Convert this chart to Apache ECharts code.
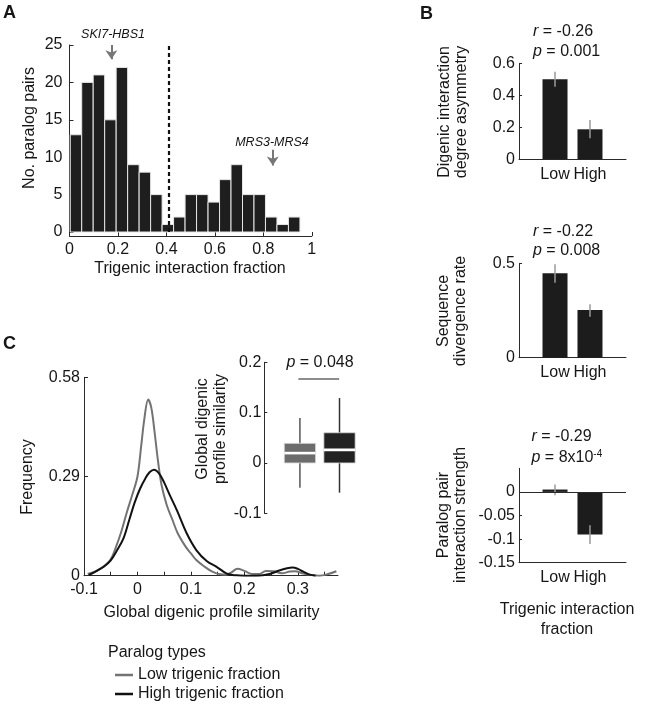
<!DOCTYPE html>
<html><head><meta charset="utf-8">
<script src="https://cdn.jsdelivr.net/npm/echarts@6/dist/echarts.min.js"></script>
<style>html,body{margin:0;padding:0;background:#fff}#c{width:645px;height:705px}</style>
</head><body><div id="c"></div>
<script>
const FONT = "'Liberation Sans', Arial, Helvetica, sans-serif";
const INK = '#161616';
const AXIS = '#2a2a2a';

// ---------- Panel A: histogram ----------
const histCounts = [13, 20, 21, 15, 22, 9, 8, 5, 1, 2, 5, 5, 4, 7, 9, 5, 5, 2, 1, 2];
const histBinStart = 0.003;
const histBinWidth = 0.0474;
const histXTicks = [0, 0.2, 0.4, 0.6, 0.8, 1];
const histYTicks = [0, 5, 10, 15, 20, 25];
const thresholdFraction = 0.41;
const arrowSKI7 = [0.173, 25, 23.1];   // x, start y, end y
const arrowMRS = [0.839, 11.0, 8.9];

// ---------- Panel B: bar charts ----------
const groups = ['Low', 'High'];
const asymMean = [0.50, 0.1875];
const asymLo = [0.454, 0.131];
const asymHi = [0.547, 0.245];
const asymYTicks = [0, 0.2, 0.4, 0.6];
const divMean = [0.447, 0.253];
const divLo = [0.397, 0.217];
const divHi = [0.495, 0.283];
const divYTicks = [0, 0.5];
const strMean = [0.005, -0.090];
const strLo = [-0.007, -0.1106];
const strHi = [0.0156, -0.0704];
const strYTicks = [0, -0.05, -0.1, -0.15];

// ---------- Panel C: density curves + inset boxplot ----------
const densLow = [[-0.093,0.005],[-0.08,0.012],[-0.065,0.025],[-0.05,0.048],[-0.04,0.085],[-0.03,0.13],
  [-0.02,0.185],[-0.01,0.235],[0,0.29],[0.007,0.38],[0.013,0.46],[0.02,0.515],[0.026,0.49],[0.032,0.42],
  [0.038,0.34],[0.045,0.265],[0.055,0.205],[0.065,0.165],[0.075,0.125],[0.09,0.085],[0.1,0.065],
  [0.11,0.046],[0.125,0.027],[0.14,0.012],[0.155,0.004],[0.165,0.003],[0.175,0.009],[0.187,0.02],
  [0.2,0.014],[0.215,0.005],[0.228,0.005],[0.24,0.014],[0.255,0.013],[0.27,0.007],[0.285,0.012],
  [0.295,0.013],[0.31,0.006],[0.325,0.002],[0.34,0.0],[0.355,0.004],[0.372,0.013]];
const densHigh = [[-0.091,0.002],[-0.075,0.015],[-0.063,0.026],[-0.05,0.045],[-0.038,0.075],[-0.026,0.11],
  [-0.015,0.165],[-0.005,0.215],[0.005,0.255],[0.015,0.285],[0.023,0.303],[0.031,0.31],[0.04,0.3],
  [0.05,0.272],[0.06,0.237],[0.074,0.19],[0.092,0.124],[0.11,0.075],[0.13,0.042],[0.148,0.026],
  [0.167,0.006],[0.185,0.001],[0.2,0.0],[0.225,0.0],[0.247,0.005],[0.265,0.015],[0.28,0.022],
  [0.29,0.024],[0.3,0.02],[0.31,0.012],[0.322,0.003],[0.333,0.0]];
const densXLabels = [-0.1, 0, 0.1, 0.2, 0.3];
const densXTicks = [-0.1, -0.05, 0, 0.05, 0.1, 0.15, 0.2, 0.25, 0.3, 0.35];
const densYTicks = [0, 0.29, 0.58];
// boxplot: [min, q1, median, q3, max]
const boxLow = [-0.049, 0.0, 0.0196, 0.039, 0.0895];
const boxHigh = [-0.059, 0.0, 0.026, 0.060, 0.129];
const boxYTicks = [-0.1, 0, 0.1, 0.2];
const seriesNames = ['Low trigenic fraction', 'High trigenic fraction'];
const seriesColors = ['#737373', '#111111'];

// ---------- helpers ----------
const lbl = (extra) => Object.assign({fontSize: 16, fontFamily: FONT, color: INK}, extra);
function valAxis(o) {
  return Object.assign({
    type: 'value', splitLine: {show: false},
    axisLine: {show: true, onZero: false, lineStyle: {color: AXIS, width: 1}},
    axisTick: {show: true, inside: true, length: 4, lineStyle: {color: AXIS}},
  }, o);
}
function txt(x, y, text, o = {}) {
  return {
    type: 'text', x: x, y: y, rotation: o.rot || 0, silent: true,
    style: {
      text: text, fontFamily: FONT, fontSize: o.size || 16, fill: o.fill || INK,
      fontStyle: o.italic ? 'italic' : 'normal', fontWeight: o.bold ? 'bold' : 'normal',
      textAlign: o.align || 'center', textVerticalAlign: 'middle',
      align: o.align || 'center', verticalAlign: 'middle',
      lineHeight: o.lh || 18, rich: o.rich
    }
  };
}
const richIt = {
  i: {fontStyle: 'italic', fontSize: 16, fontFamily: FONT, fill: INK},
  s: {fontSize: 10, fontFamily: FONT, fill: INK, verticalAlign: 'top', padding: [0, 0, 7, 0]}
};

const histData = histCounts.map((c, i) => [histBinStart + i * histBinWidth, histBinStart + (i + 1) * histBinWidth, c]);
const barRows = (mean, lo, hi) => groups.map((g, i) => [i + 1, mean[i], lo[i], hi[i]]);
const boxRows = [[1].concat(boxLow, ['#6c6c6c', '#555']), [2].concat(boxHigh, ['#222', '#333'])];

function renderHist(params, api) {
  const p0 = api.coord([api.value(0), api.value(2)]);
  const p1 = api.coord([api.value(1), 0]);
  return {type: 'rect', shape: {x: p0[0], y: p0[1], width: p1[0] - p0[0], height: p1[1] - p0[1]},
    style: {fill: '#1e1e1e', stroke: '#e6e6e6', lineWidth: 1}};
}
function renderBar(params, api) {
  const x = api.value(0);
  const top = api.coord([x, api.value(1)]);
  const base = api.coord([x, 0]);
  const lo = api.coord([x, api.value(2)]);
  const hi = api.coord([x, api.value(3)]);
  const w = 25;
  return {type: 'group', children: [
    {type: 'rect', shape: {x: top[0] - w / 2, y: Math.min(top[1], base[1]), width: w, height: Math.abs(base[1] - top[1])},
      style: {fill: '#1c1c1c'}},
    {type: 'line', shape: {x1: lo[0], y1: lo[1], x2: hi[0], y2: hi[1]}, style: {stroke: '#9a9a9a', lineWidth: 1.5}}
  ]};
}
function renderBox(params, api) {
  const x = api.value(0);
  const pMin = api.coord([x, api.value(1)]);
  const pQ1 = api.coord([x, api.value(2)]);
  const pMed = api.coord([x, api.value(3)]);
  const pQ3 = api.coord([x, api.value(4)]);
  const pMax = api.coord([x, api.value(5)]);
  const fill = api.value(6), wh = api.value(7);
  const w = api.size([0.79, 0])[0];
  return {type: 'group', children: [
    {type: 'line', shape: {x1: pMin[0], y1: pMin[1], x2: pMax[0], y2: pMax[1]}, style: {stroke: wh, lineWidth: 1.5}},
    {type: 'rect', shape: {x: pQ3[0] - w / 2, y: pQ3[1], width: w, height: pQ1[1] - pQ3[1]},
      style: {fill: fill, stroke: '#d8d8d8', lineWidth: 0.8}},
    {type: 'line', shape: {x1: pMed[0] - w / 2, y1: pMed[1], x2: pMed[0] + w / 2, y2: pMed[1]},
      style: {stroke: '#fff', lineWidth: 2.6}}
  ]};
}

const bGrid = (top, h) => ({left: 519, top: top, width: 107, height: h});
const bX = (gi) => valAxis({gridIndex: gi, min: -0.03, max: 3.03, axisTick: {show: false},
  axisLabel: lbl({customValues: [1, 2], formatter: v => groups[Math.round(v) - 1], margin: 7})});
const bY = (gi, min, max, ticks) => valAxis({gridIndex: gi, min: min, max: max,
  axisTick: {show: true, inside: true, length: 3, customValues: ticks, lineStyle: {color: AXIS}},
  axisLabel: lbl({customValues: ticks, margin: 4})});
const legendItem = (i, top) => ({
  data: [{name: seriesNames[i], icon: 'rect', itemStyle: {color: seriesColors[i]}}],
  left: 110, top: top, itemWidth: 18, itemHeight: 2.5, selectedMode: false,
  textStyle: {fontSize: 16, fontFamily: FONT, color: INK}
});

const option = {
  animation: false,
  textStyle: {fontFamily: FONT},
  grid: [
    {left: 69.5, top: 45, width: 242.3, height: 187},
    bGrid(63.3, 96),
    bGrid(263.3, 94.4),
    bGrid(468.3, 94.4),
    {left: 84, top: 377.3, width: 254, height: 198.4},
    {left: 264.3, top: 362.3, width: 95, height: 151}
  ],
  xAxis: [
    valAxis({gridIndex: 0, min: 0, max: 1, offset: 4,
      axisTick: {show: true, inside: true, length: 4, customValues: histXTicks, lineStyle: {color: AXIS}},
      axisLabel: lbl({customValues: histXTicks, margin: 6})}),
    bX(1), bX(2), bX(3),
    valAxis({gridIndex: 4, min: -0.1, max: 0.375,
      axisTick: {show: true, inside: true, length: 4, customValues: densXTicks, lineStyle: {color: AXIS}},
      axisLabel: lbl({customValues: densXLabels, margin: 6})}),
    {type: 'value', gridIndex: 5, min: 0.1, max: 2.5, show: false}
  ],
  yAxis: [
    valAxis({gridIndex: 0, min: 0, max: 25,
      axisTick: {show: true, inside: true, length: 4, customValues: histYTicks, lineStyle: {color: AXIS}},
      axisLabel: lbl({customValues: histYTicks, margin: 7})}),
    bY(1, 0, 0.6, asymYTicks),
    bY(2, 0, 0.5, divYTicks),
    bY(3, -0.15, 0.05, strYTicks),
    valAxis({gridIndex: 4, min: 0, max: 0.58,
      axisTick: {show: true, inside: true, length: 4, customValues: densYTicks, lineStyle: {color: AXIS}},
      axisLabel: lbl({customValues: densYTicks, margin: 4})}),
    valAxis({gridIndex: 5, min: -0.1, max: 0.2,
      axisTick: {show: true, inside: true, length: 3, customValues: boxYTicks, lineStyle: {color: AXIS}},
      axisLabel: lbl({customValues: boxYTicks, margin: 3})})
  ],
  legend: [legendItem(0, 662), legendItem(1, 681)],
  series: [
    {type: 'custom', xAxisIndex: 0, yAxisIndex: 0, data: histData, renderItem: renderHist,
      encode: {x: [0, 1], y: 2}, silent: true,
      markLine: {silent: true, symbol: ['none', 'none'], label: {show: false},
        data: [
          {xAxis: thresholdFraction, lineStyle: {type: [4, 3], width: 2.2, color: '#111'}},
          [{coord: [arrowSKI7[0], arrowSKI7[1]], symbol: 'none', lineStyle: {color: '#777', width: 2, type: 'solid'}},
           {coord: [arrowSKI7[0], arrowSKI7[2]], symbol: 'arrow', symbolSize: 9}],
          [{coord: [arrowMRS[0], arrowMRS[1]], symbol: 'none', lineStyle: {color: '#777', width: 2, type: 'solid'}},
           {coord: [arrowMRS[0], arrowMRS[2]], symbol: 'arrow', symbolSize: 9}]
        ]}},
    {type: 'custom', xAxisIndex: 1, yAxisIndex: 1, data: barRows(asymMean, asymLo, asymHi),
      renderItem: renderBar, encode: {x: 0, y: [1, 2, 3]}, silent: true},
    {type: 'custom', xAxisIndex: 2, yAxisIndex: 2, data: barRows(divMean, divLo, divHi),
      renderItem: renderBar, encode: {x: 0, y: [1, 2, 3]}, silent: true},
    {type: 'custom', xAxisIndex: 3, yAxisIndex: 3, data: barRows(strMean, strLo, strHi),
      renderItem: renderBar, encode: {x: 0, y: [1, 2, 3]}, silent: true,
      markLine: {silent: true, symbol: ['none', 'none'], label: {show: false},
        lineStyle: {color: AXIS, width: 1, type: 'solid'}, data: [{yAxis: 0}]}},
    {type: 'line', name: seriesNames[0], xAxisIndex: 4, yAxisIndex: 4, data: densLow,
      smooth: 0.35, symbol: 'none', lineStyle: {color: seriesColors[0], width: 2}, itemStyle: {color: seriesColors[0]}, silent: true},
    {type: 'line', name: seriesNames[1], xAxisIndex: 4, yAxisIndex: 4, data: densHigh,
      smooth: 0.35, symbol: 'none', lineStyle: {color: seriesColors[1], width: 2}, itemStyle: {color: seriesColors[1]}, silent: true},
    {type: 'custom', xAxisIndex: 5, yAxisIndex: 5, data: boxRows, renderItem: renderBox,
      encode: {x: 0, y: [1, 2, 3, 4, 5]}, silent: true,
      markLine: {silent: true, symbol: ['none', 'none'], label: {show: false},
        lineStyle: {color: '#666', width: 1.5, type: 'solid'},
        data: [[{coord: [0.96, 0.1675]}, {coord: [1.99, 0.1675]}]]}}
  ],
  graphic: {elements: [
    txt(3, 13, 'A', {size: 18, bold: true, align: 'left'}),
    txt(420, 14, 'B', {size: 18, bold: true, align: 'left'}),
    txt(3, 344, 'C', {size: 18, bold: true, align: 'left'}),
    txt(113, 35, 'SKI7-HBS1', {size: 12.5, italic: true}),
    txt(272, 143, 'MRS3-MRS4', {size: 12.5, italic: true}),
    txt(30, 128, 'No. paralog pairs', {rot: Math.PI / 2}),
    txt(190, 269, 'Trigenic interaction fraction'),
    txt(453.5, 112, 'Digenic interaction\ndegree asymmetry', {rot: Math.PI / 2, lh: 17}),
    txt(452, 311, 'Sequence\ndivergence rate', {rot: Math.PI / 2, lh: 17}),
    txt(452, 515, 'Paralog pair\ninteraction strength', {rot: Math.PI / 2, lh: 17}),
    txt(533, 32, '{i|r} = -0.26', {align: 'left', rich: richIt}),
    txt(533, 52, '{i|p} = 0.001', {align: 'left', rich: richIt}),
    txt(533, 232, '{i|r} = -0.22', {align: 'left', rich: richIt}),
    txt(533, 251, '{i|p} = 0.008', {align: 'left', rich: richIt}),
    txt(531.5, 437, '{i|r} = -0.29', {align: 'left', rich: richIt}),
    txt(531.5, 458, '{i|p} = 8x10{s|-4}', {align: 'left', rich: richIt}),
    txt(567, 620, 'Trigenic interaction\nfraction', {lh: 20}),
    txt(28, 477, 'Frequency', {rot: Math.PI / 2}),
    txt(211.5, 613, 'Global digenic profile similarity'),
    txt(211.5, 429, 'Global digenic\nprofile similarity', {rot: Math.PI / 2, lh: 18}),
    txt(320, 363, '{i|p} = 0.048', {rich: richIt}),
    txt(108, 653, 'Paralog types', {align: 'left'})
  ]}
};

const chart = echarts.init(document.getElementById('c'), null, {renderer: 'canvas'});
chart.setOption(option);
</script>
</body></html>
